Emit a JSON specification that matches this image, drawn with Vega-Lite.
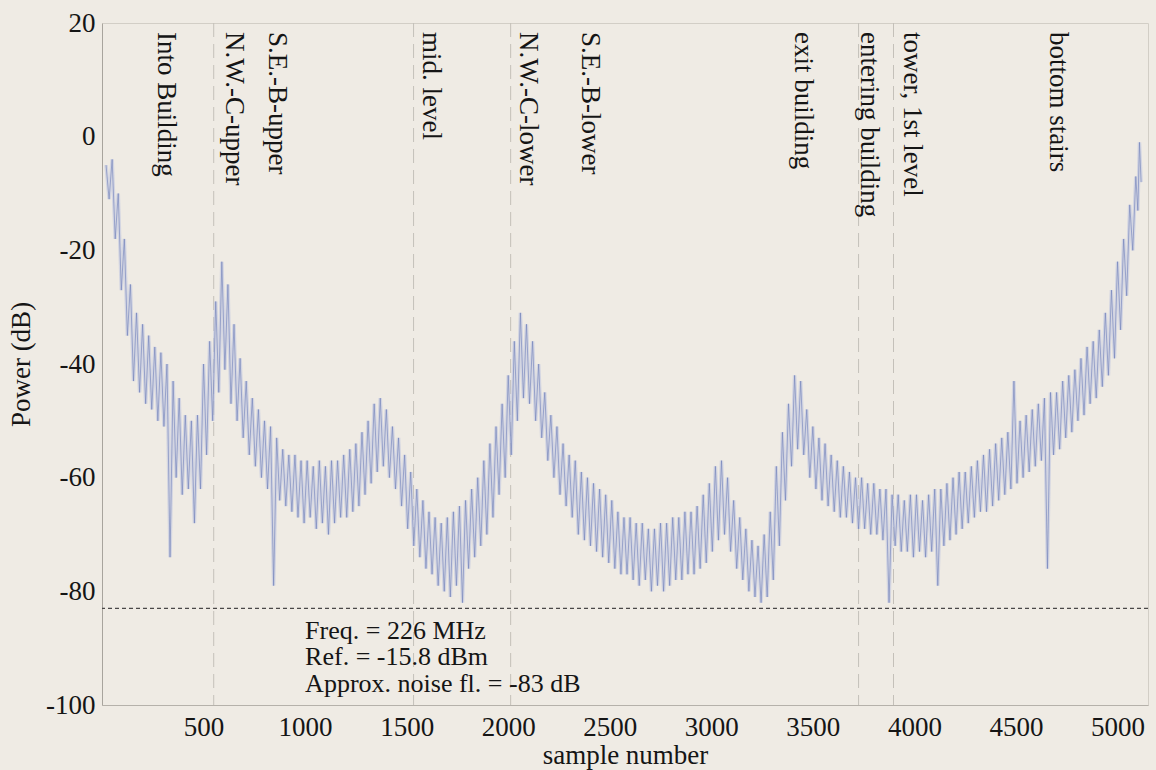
{
  "$schema": "https://vega.github.io/schema/vega-lite/v6.json",
  "width": 1046,
  "height": 682,
  "autosize": {"type": "none"},
  "padding": {"left": 102, "top": 23, "right": 8, "bottom": 65},
  "background": "#efebe4",
  "config": {"font": "Liberation Serif", "view": {"stroke": "#d2cec6", "strokeWidth": 1}},
  "datasets": {
    "trace": [
      {"s":20,"p":-5},{"s":35,"p":-11},{"s":50,"p":-4},{"s":65,"p":-18},{"s":80,"p":-10},{"s":95,"p":-27},{"s":110,"p":-18},{"s":125,"p":-35},{"s":140,"p":-26},{"s":155,"p":-43},{"s":170,"p":-31},{"s":185,"p":-45},{"s":200,"p":-33},{"s":215,"p":-47},{"s":230,"p":-35},{"s":245,"p":-48},{"s":260,"p":-37},{"s":275,"p":-50},{"s":290,"p":-38},{"s":305,"p":-51},{"s":320,"p":-40},{"s":335,"p":-74},{"s":350,"p":-43},{"s":365,"p":-60},{"s":380,"p":-46},{"s":395,"p":-63},{"s":410,"p":-49},{"s":425,"p":-62},{"s":440,"p":-50},{"s":455,"p":-68},{"s":470,"p":-49},{"s":485,"p":-62},{"s":500,"p":-40},{"s":515,"p":-56},{"s":530,"p":-36},{"s":545,"p":-50},{"s":560,"p":-29},{"s":575,"p":-45},{"s":590,"p":-22},{"s":605,"p":-41},{"s":620,"p":-26},{"s":635,"p":-47},{"s":650,"p":-33},{"s":665,"p":-50},{"s":680,"p":-39},{"s":695,"p":-53},{"s":710,"p":-43},{"s":725,"p":-56},{"s":740,"p":-46},{"s":755,"p":-58},{"s":770,"p":-48},{"s":785,"p":-60},{"s":800,"p":-50},{"s":815,"p":-62},{"s":830,"p":-51},{"s":845,"p":-79},
      {"s":860,"p":-53},{"s":875,"p":-64},{"s":890,"p":-55},{"s":905,"p":-65},{"s":920,"p":-56},{"s":935,"p":-66},{"s":950,"p":-56},{"s":965,"p":-67},{"s":980,"p":-57},{"s":995,"p":-68},{"s":1010,"p":-57},{"s":1025,"p":-67},{"s":1040,"p":-58},{"s":1055,"p":-69},{"s":1070,"p":-57},{"s":1085,"p":-68},{"s":1100,"p":-58},{"s":1115,"p":-70},{"s":1130,"p":-57},{"s":1145,"p":-68},{"s":1160,"p":-57},{"s":1175,"p":-67},{"s":1190,"p":-56},{"s":1205,"p":-67},{"s":1220,"p":-55},{"s":1235,"p":-66},{"s":1250,"p":-54},{"s":1265,"p":-65},{"s":1280,"p":-52},{"s":1295,"p":-63},{"s":1310,"p":-50},{"s":1325,"p":-61},{"s":1340,"p":-47},{"s":1355,"p":-59},{"s":1370,"p":-46},{"s":1385,"p":-58},{"s":1400,"p":-48},{"s":1415,"p":-60},{"s":1430,"p":-51},{"s":1445,"p":-62},{"s":1460,"p":-53},{"s":1475,"p":-65},{"s":1490,"p":-56},{"s":1505,"p":-69},{"s":1520,"p":-59},{"s":1535,"p":-72},{"s":1550,"p":-62},{"s":1565,"p":-74},{"s":1580,"p":-64},{"s":1595,"p":-76},{"s":1610,"p":-66},{"s":1625,"p":-77},{"s":1640,"p":-67},{"s":1655,"p":-79},{"s":1670,"p":-68},{"s":1685,"p":-80},{"s":1700,"p":-67},{"s":1715,"p":-81},{"s":1730,"p":-66},{"s":1745,"p":-79},{"s":1760,"p":-65},{"s":1775,"p":-82},{"s":1790,"p":-64},{"s":1805,"p":-76},{"s":1820,"p":-62},{"s":1835,"p":-74},{"s":1850,"p":-60},{"s":1865,"p":-72},{"s":1880,"p":-57},{"s":1895,"p":-70},{"s":1910,"p":-54},{"s":1925,"p":-67},{"s":1940,"p":-51},{"s":1955,"p":-63},{"s":1970,"p":-47},{"s":1985,"p":-60},{"s":2000,"p":-42},{"s":2015,"p":-56},{"s":2030,"p":-36},{"s":2045,"p":-50},{"s":2060,"p":-31},{"s":2075,"p":-46},{"s":2090,"p":-33},{"s":2105,"p":-47},{"s":2120,"p":-36},{"s":2135,"p":-50},{"s":2150,"p":-40},{"s":2165,"p":-53},{"s":2180,"p":-45},{"s":2195,"p":-57},{"s":2210,"p":-49},{"s":2225,"p":-60},{"s":2240,"p":-51},{"s":2255,"p":-63},{"s":2270,"p":-54},{"s":2285,"p":-65},{"s":2300,"p":-56},{"s":2315,"p":-67},{"s":2330,"p":-57},{"s":2345,"p":-70},{"s":2360,"p":-59},{"s":2375,"p":-71},{"s":2390,"p":-60},{"s":2405,"p":-72},{"s":2420,"p":-61},{"s":2435,"p":-73},{"s":2450,"p":-62},{"s":2465,"p":-74},{"s":2480,"p":-63},{"s":2495,"p":-75},{"s":2510,"p":-64},{"s":2525,"p":-76},{"s":2540,"p":-66},{"s":2555,"p":-77},{"s":2570,"p":-67},{"s":2585,"p":-77},{"s":2600,"p":-67},{"s":2615,"p":-78},{"s":2630,"p":-68},{"s":2645,"p":-79},{"s":2660,"p":-68},{"s":2675,"p":-78},{"s":2690,"p":-69},{"s":2705,"p":-80},{"s":2720,"p":-69},{"s":2735,"p":-79},{"s":2750,"p":-68},{"s":2765,"p":-80},{"s":2780,"p":-68},{"s":2795,"p":-79},{"s":2810,"p":-67},{"s":2825,"p":-78},{"s":2840,"p":-67},{"s":2855,"p":-78},{"s":2870,"p":-66},{"s":2885,"p":-77},{"s":2900,"p":-66},{"s":2915,"p":-77},{"s":2930,"p":-65},{"s":2945,"p":-76},{"s":2960,"p":-63},{"s":2975,"p":-75},{"s":2990,"p":-61},{"s":3005,"p":-73},{"s":3020,"p":-58},{"s":3035,"p":-71},{"s":3050,"p":-57},{"s":3065,"p":-70},{"s":3080,"p":-60},{"s":3095,"p":-73},{"s":3110,"p":-64},{"s":3125,"p":-76},{"s":3140,"p":-67},{"s":3155,"p":-78},{"s":3170,"p":-69},{"s":3185,"p":-80},{"s":3200,"p":-71},{"s":3215,"p":-81},{"s":3230,"p":-72},{"s":3245,"p":-82},{"s":3260,"p":-70},{"s":3275,"p":-81},{"s":3290,"p":-66},{"s":3305,"p":-78},{"s":3320,"p":-58},{"s":3335,"p":-72},{"s":3350,"p":-52},{"s":3365,"p":-64},{"s":3380,"p":-47},{"s":3395,"p":-58},{"s":3410,"p":-42},{"s":3425,"p":-55},{"s":3440,"p":-43},{"s":3455,"p":-56},{"s":3470,"p":-48},{"s":3485,"p":-60},{"s":3500,"p":-51},{"s":3515,"p":-62},{"s":3530,"p":-53},{"s":3545,"p":-64},{"s":3560,"p":-54},{"s":3575,"p":-65},{"s":3590,"p":-56},{"s":3605,"p":-66},{"s":3620,"p":-57},{"s":3635,"p":-67},{"s":3650,"p":-58},{"s":3665,"p":-67},{"s":3680,"p":-59},{"s":3695,"p":-68},{"s":3710,"p":-60},{"s":3725,"p":-69},{"s":3740,"p":-60},{"s":3755,"p":-69},{"s":3770,"p":-61},{"s":3785,"p":-70},{"s":3800,"p":-61},{"s":3815,"p":-70},{"s":3830,"p":-62},{"s":3845,"p":-71},{"s":3860,"p":-62},{"s":3875,"p":-82},{"s":3890,"p":-63},{"s":3905,"p":-72},{"s":3920,"p":-63},{"s":3935,"p":-73},{"s":3950,"p":-64},{"s":3965,"p":-73},{"s":3980,"p":-63},{"s":3995,"p":-74},{"s":4010,"p":-63},{"s":4025,"p":-73},{"s":4040,"p":-64},{"s":4055,"p":-74},{"s":4070,"p":-63},{"s":4085,"p":-73},{"s":4100,"p":-62},{"s":4115,"p":-79},{"s":4130,"p":-62},{"s":4145,"p":-72},{"s":4160,"p":-61},{"s":4175,"p":-71},{"s":4190,"p":-60},{"s":4205,"p":-70},{"s":4220,"p":-59},{"s":4235,"p":-69},{"s":4250,"p":-59},{"s":4265,"p":-68},{"s":4280,"p":-58},{"s":4295,"p":-67},{"s":4310,"p":-57},{"s":4325,"p":-66},{"s":4340,"p":-56},{"s":4355,"p":-66},{"s":4370,"p":-55},{"s":4385,"p":-65},{"s":4400,"p":-54},{"s":4415,"p":-64},{"s":4430,"p":-53},{"s":4445,"p":-63},{"s":4460,"p":-52},{"s":4475,"p":-62},{"s":4490,"p":-43},{"s":4505,"p":-61},{"s":4520,"p":-50},{"s":4535,"p":-60},{"s":4550,"p":-49},{"s":4565,"p":-59},{"s":4580,"p":-48},{"s":4595,"p":-58},{"s":4610,"p":-47},{"s":4625,"p":-57},{"s":4640,"p":-46},{"s":4655,"p":-76},{"s":4670,"p":-45},{"s":4685,"p":-56},{"s":4700,"p":-45},{"s":4715,"p":-55},{"s":4730,"p":-43},{"s":4745,"p":-53},{"s":4760,"p":-42},{"s":4775,"p":-52},{"s":4790,"p":-41},{"s":4805,"p":-50},{"s":4820,"p":-39},{"s":4835,"p":-49},{"s":4850,"p":-37},{"s":4865,"p":-47},{"s":4880,"p":-36},{"s":4895,"p":-46},{"s":4910,"p":-34},{"s":4925,"p":-44},{"s":4940,"p":-31},{"s":4955,"p":-42},{"s":4970,"p":-27},{"s":4985,"p":-39},{"s":5000,"p":-22},{"s":5015,"p":-34},{"s":5030,"p":-18},{"s":5045,"p":-28},{"s":5060,"p":-12},{"s":5075,"p":-20},{"s":5090,"p":-7},{"s":5100,"p":-13},{"s":5108,"p":-1},{"s":5116,"p":-8}
    ],
    "markers": [{"s":550},{"s":1534},{"s":2012},{"s":3725},{"s":3897}],
    "floor": [{"p":-83}],
    "labels": [
      {"s":313,"p":18.4,"t":"Into Building"},
      {"s":648,"p":18.4,"t":"N.W.-C-upper"},
      {"s":864,"p":18.4,"t":"S.E.-B-upper"},
      {"s":1618,"p":18.4,"t":"mid. level"},
      {"s":2095,"p":18.4,"t":"N.W.-C-lower"},
      {"s":2405,"p":18.4,"t":"S.E.-B-lower"},
      {"s":3450,"p":18.4,"t":"exit building"},
      {"s":3775,"p":18.4,"t":"entering building"},
      {"s":3986,"p":18.4,"t":"tower, 1st level"},
      {"s":4705,"p":18.4,"t":"bottom stairs"}
    ],
    "info": [
      {"s":1000,"p":-88.4,"t":"Freq. = 226 MHz"},
      {"s":1000,"p":-93.0,"t":"Ref. = -15.8 dBm"},
      {"s":1000,"p":-97.7,"t":"Approx. noise fl. = -83 dB"}
    ]
  },
  "layer": [
    {
      "data": {"name": "markers"},
      "mark": {"type": "rule", "stroke": "#c4c0b9", "strokeWidth": 1, "strokeDash": [14, 7]},
      "encoding": {
        "x": {"field": "s", "type": "quantitative", "scale": {"domain": [0, 5150], "nice": false, "zero": false}}
      }
    },
    {
      "data": {"name": "trace"},
      "mark": {"type": "line", "stroke": "#bcc3e0", "strokeWidth": 3.5, "opacity": 0.55},
      "encoding": {
        "x": {"field": "s", "type": "quantitative"},
        "y": {"field": "p", "type": "quantitative"}
      }
    },
    {
      "data": {"name": "trace"},
      "mark": {"type": "line", "stroke": "#7383bb", "strokeWidth": 0.7, "opacity": 0.9},
      "encoding": {
        "x": {"field": "s", "type": "quantitative", "scale": {"domain": [0, 5150], "nice": false, "zero": false},
          "axis": {"title": "sample number", "values": [500,1000,1500,2000,2500,3000,3500,4000,4500,5000], "grid": false, "ticks": false,
            "labelExpr": "'' + datum.value", "labelFont": "Liberation Serif", "titleFont": "Liberation Serif",
            "labelFontSize": 27, "titleFontSize": 27, "titleFontWeight": "normal", "labelColor": "#151515", "titleColor": "#151515",
            "domainColor": "#b5b1aa", "labelPadding": 9, "titlePadding": 2, "labelOverlap": false, "labelFlush": false}},
        "y": {"field": "p", "type": "quantitative", "scale": {"domain": [-100, 20], "nice": false, "zero": false},
          "axis": {"title": "Power (dB)", "values": [20,0,-20,-40,-60,-80,-100], "grid": false, "ticks": false,
            "labelExpr": "'' + datum.value", "labelFont": "Liberation Serif", "titleFont": "Liberation Serif",
            "labelFontSize": 27, "titleFontSize": 27, "titleFontWeight": "normal", "labelColor": "#151515", "titleColor": "#151515",
            "domainColor": "#a8a49d", "labelPadding": 7, "titlePadding": 10, "labelOverlap": false, "labelFlush": false}}
      }
    },
    {
      "data": {"name": "floor"},
      "mark": {"type": "rule", "stroke": "#4a4848", "strokeWidth": 1.2, "strokeDash": [4, 3]},
      "encoding": {
        "y": {"field": "p", "type": "quantitative"}
      }
    },
    {
      "data": {"name": "labels"},
      "mark": {"type": "text", "angle": 90, "align": "left", "baseline": "middle", "fontSize": 27, "color": "#151515", "font": "Liberation Serif"},
      "encoding": {
        "x": {"field": "s", "type": "quantitative"},
        "y": {"field": "p", "type": "quantitative"},
        "text": {"field": "t"}
      }
    },
    {
      "data": {"name": "info"},
      "mark": {"type": "text", "align": "left", "baseline": "alphabetic", "fontSize": 26, "color": "#151515", "font": "Liberation Serif"},
      "encoding": {
        "x": {"field": "s", "type": "quantitative"},
        "y": {"field": "p", "type": "quantitative"},
        "text": {"field": "t"}
      }
    }
  ]
}
